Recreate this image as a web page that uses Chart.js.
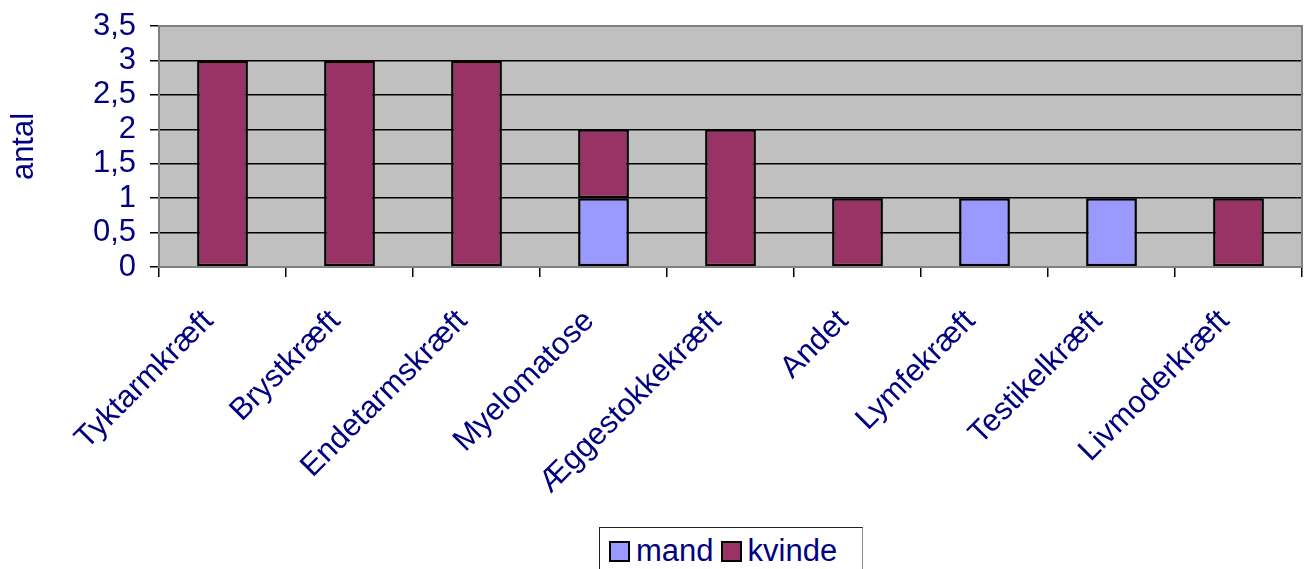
<!DOCTYPE html>
<html><head><meta charset="utf-8">
<script src="https://cdn.jsdelivr.net/npm/chart.js@4"></script>
<style>
html,body{margin:0;padding:0;background:#fff;overflow:hidden}
#wrap{position:relative;width:1311px;height:569px}
#legend{position:absolute;left:599px;top:527px;width:264px;height:50px;border:1px solid #222;border-right-color:#888;box-sizing:border-box;font-family:"Liberation Sans",Arial,sans-serif;font-size:31px;line-height:36px;color:#000080;display:flex;align-items:flex-start;padding-top:5px;padding-left:9px;background:#fff}
.item{display:flex;align-items:center;margin-right:7px}
.sw{width:17px;height:17px;border:2px solid #000;margin-right:6px;box-sizing:content-box}
</style></head>
<body><div id="wrap"><canvas id="c" width="1311" height="569"></canvas><div id="legend"></div></div>
<script>
const categories = ["Tyktarmkræft","Brystkræft","Endetarmskræft","Myelomatose","Æggestokkekræft","Andet","Lymfekræft","Testikelkræft","Livmoderkræft"];
const mand   = [null,null,null,1,null,null,1,1,null];
const kvinde = [3,3,3,1,2,1,null,null,1];
const seriesNames = ["mand","kvinde"];
const seriesColors = ["#9999FF","#993366"];
const yTicks = [0,0.5,1,1.5,2,2.5,3,3.5];

const FONT = '"Liberation Sans", Arial, sans-serif';
const NAVY = '#000080';

const bgPlugin = {
  id:'bg',
  beforeDraw(chart){
    const {ctx, chartArea:a} = chart;
    ctx.save();
    ctx.fillStyle = '#C0C0C0';
    ctx.fillRect(a.left, a.top, a.right-a.left, a.bottom-a.top);
    ctx.restore();
  },
  afterDraw(chart){
    const {ctx, chartArea:a} = chart;
    ctx.save();
    ctx.strokeStyle = '#808080';
    ctx.lineWidth = 2;
    ctx.strokeRect(a.left, a.top, a.right-a.left, a.bottom-a.top);
    ctx.restore();
  }
};

const chart = new Chart(document.getElementById('c'), {
  type:'bar',
  data:{
    labels: categories,
    datasets:[
      {label:seriesNames[0], data:mand, backgroundColor:seriesColors[0], borderColor:'#000', borderWidth:2.5, borderSkipped:false},
      {label:seriesNames[1], data:kvinde, backgroundColor:seriesColors[1], borderColor:'#000', borderWidth:2.5, borderSkipped:false}
    ]
  },
  options:{
    responsive:false,
    animation:false,
    layout:{padding:{left:0,top:26,right:9,bottom:0}},
    datasets:{bar:{categoryPercentage:1, barPercentage:0.4}},
    plugins:{legend:{display:false}, tooltip:{enabled:false}},
    scales:{
      x:{
        stacked:true,
        grid:{offset:true, drawOnChartArea:false, tickLength:10, tickColor:'#000', lineWidth:1.5},
        border:{display:false},
        ticks:{autoSkip:false, maxRotation:45, minRotation:45, padding:26, labelOffset:-14, color:NAVY, font:{family:FONT, size:31}},
        afterFit(s){ s.height = 302; s.paddingLeft = 0; s.paddingRight = 0; }
      },
      y:{
        stacked:true, min:0, max:3.5,
        afterBuildTicks(s){ s.ticks = yTicks.map(v=>({value:v})); },
        grid:{
          color:(c)=> (c.tick && (c.tick.value===0 || c.tick.value===3.5)) ? 'rgba(0,0,0,0)' : '#000',
          tickColor:'#000', tickLength:9, lineWidth:1.5
        },
        border:{display:false},
        ticks:{autoSkip:false, stepSize:0.5, padding:14, color:NAVY, font:{family:FONT, size:31, lineHeight:1},
          callback:(v)=> String(v).replace('.',',')},
        title:{display:true, text:'antal', color:NAVY, font:{family:FONT, size:31, lineHeight:1.2}, padding:{top:6,bottom:0}},
        afterFit(s){ s.width = 159; s.paddingTop = 0; s.paddingBottom = 0; }
      }
    }
  },
  plugins:[bgPlugin]
});

const lg = document.getElementById('legend');
chart.data.datasets.forEach(ds=>{
  const it = document.createElement('div'); it.className='item';
  const sw = document.createElement('div'); sw.className='sw'; sw.style.background = ds.backgroundColor;
  const tx = document.createElement('span'); tx.textContent = ds.label;
  it.appendChild(sw); it.appendChild(tx); lg.appendChild(it);
});
</script></body></html>
